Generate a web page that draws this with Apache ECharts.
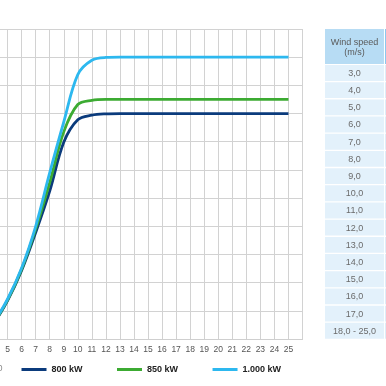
<!DOCTYPE html>
<html><head><meta charset="utf-8">
<script src="https://cdn.jsdelivr.net/npm/echarts@6/dist/echarts.min.js"></script>
<style>html,body{margin:0;padding:0;background:#fff;overflow:hidden;}#c{width:454.5px;height:386px;margin-left:-68.5px;}</style>
</head><body><div id="c"></div>
<script>
// ---- data ----
const windSpeeds = [3, 4, 5, 6, 7, 8, 9, 10, 11, 12, 13, 14, 15, 16, 17, 18, 19, 20, 21, 22, 23, 24, 25];
const power800  = [12, 56, 136, 243, 378, 525, 698, 778, 794, 799, 800, 800, 800, 800, 800, 800, 800, 800, 800, 800, 800, 800, 800];
const power850  = [13, 58, 139, 248, 390, 555, 735, 832, 847, 850, 850, 850, 850, 850, 850, 850, 850, 850, 850, 850, 850, 850, 850];
const power1000 = [14, 60, 142, 252, 400, 590, 770, 938, 989, 999, 1000, 1000, 1000, 1000, 1000, 1000, 1000, 1000, 1000, 1000, 1000, 1000, 1000];
const seriesNames = ['800 kW', '850 kW', '1.000 kW'];
const tableHeader = ['Wind speed', '(m/s)'];
const tableRows = ['3,0','4,0','5,0','6,0','7,0','8,0','9,0','10,0','11,0','12,0','13,0','14,0','15,0','16,0','17,0','18,0 - 25,0'];

const pairs = (xs, ys) => xs.map((x, i) => [x, ys[i]]);

// ---- table graphics ----
const OFF = 68.5; // container is shifted left by this much
const FONT = '"Liberation Sans", Arial, sans-serif';
const tx = 324.5 + OFF, tw = 59, ty = 29, th = 35, rowH = 17.19;
const g = [];
g.push({type:'rect', shape:{x:tx, y:ty, width:tw, height:th}, style:{fill:'#b7dcf4'}});
g.push({type:'rect', shape:{x:tx+tw+1.3, y:ty, width:3, height:th}, style:{fill:'#5ab3e8'}});
g.push({type:'text', x:tx+tw/2, y:ty+13.5, style:{text:tableHeader[0], font:'9px '+FONT, fill:'#5a5a5a', align:'center', verticalAlign:'middle'}});
g.push({type:'text', x:tx+tw/2, y:ty+23.5, style:{text:tableHeader[1], font:'9px '+FONT, fill:'#5a5a5a', align:'center', verticalAlign:'middle'}});
tableRows.forEach((t, i) => {
  const y = ty + th + 1 + i * rowH;
  g.push({type:'rect', shape:{x:tx, y:y, width:tw, height:rowH - 1.3}, style:{fill:'#e3f1fb'}});
  g.push({type:'rect', shape:{x:tx+tw+1.3, y:y, width:3, height:rowH - 1.3}, style:{fill:'#cde6f7'}});
  g.push({type:'text', x:tx+tw/2, y:y + (rowH-1.3)/2 + 0.5, style:{text:t, font:'9px '+FONT, fill:'#6a6a6a', align:'center', verticalAlign:'middle'}});
});
g.push({type:'text', x:OFF-3, y:369, style:{text:'0', font:'9px '+FONT, fill:'#8a8a8a', verticalAlign:'middle'}});

const colors = ['#0b3b7c', '#3cab32', '#2db8ef'];
const chart = echarts.init(document.getElementById('c'), null, {renderer:'canvas'});
chart.setOption({
  animation: false,
  color: colors,
  grid: {left: 0, right: 84.5, top: 29, bottom: 47, containLabel: false},
  xAxis: {
    type: 'value', min: 0, max: 26, interval: 1,
    axisLine: {show: true, lineStyle: {color: '#cfcfcf', width: 1}},
    axisTick: {show: false},
    splitLine: {show: true, lineStyle: {color: '#d2d2d2', width: 1}},
    axisLabel: {fontSize: 8.5, color: '#555', fontFamily: FONT, margin: 6,
      formatter: v => (v >= 26 ? '' : String(v))}
  },
  yAxis: {
    type: 'value', min: 0, max: 1100, interval: 100,
    axisLine: {show: false}, axisTick: {show: false},
    splitLine: {show: true, lineStyle: {color: '#d2d2d2', width: 1}},
    axisLabel: {show: false}
  },
  legend: {
    data: seriesNames, left: 21 + OFF, top: 365, padding: 0, icon: 'rect', itemWidth: 25, itemHeight: 3,
    itemGap: 34.5, textStyle: {fontSize: 9, fontWeight: 'bold', color: '#222', fontFamily: FONT}
  },
  series: [
    {name: seriesNames[0], type: 'line', data: pairs(windSpeeds, power800)},
    {name: seriesNames[1], type: 'line', data: pairs(windSpeeds, power850)},
    {name: seriesNames[2], type: 'line', data: pairs(windSpeeds, power1000)}
  ].map(s => Object.assign(s, {smooth: 0.35, showSymbol: false, symbol: 'none', lineStyle: {width: 2.8}})),
  graphic: g
});
</script></body></html>
